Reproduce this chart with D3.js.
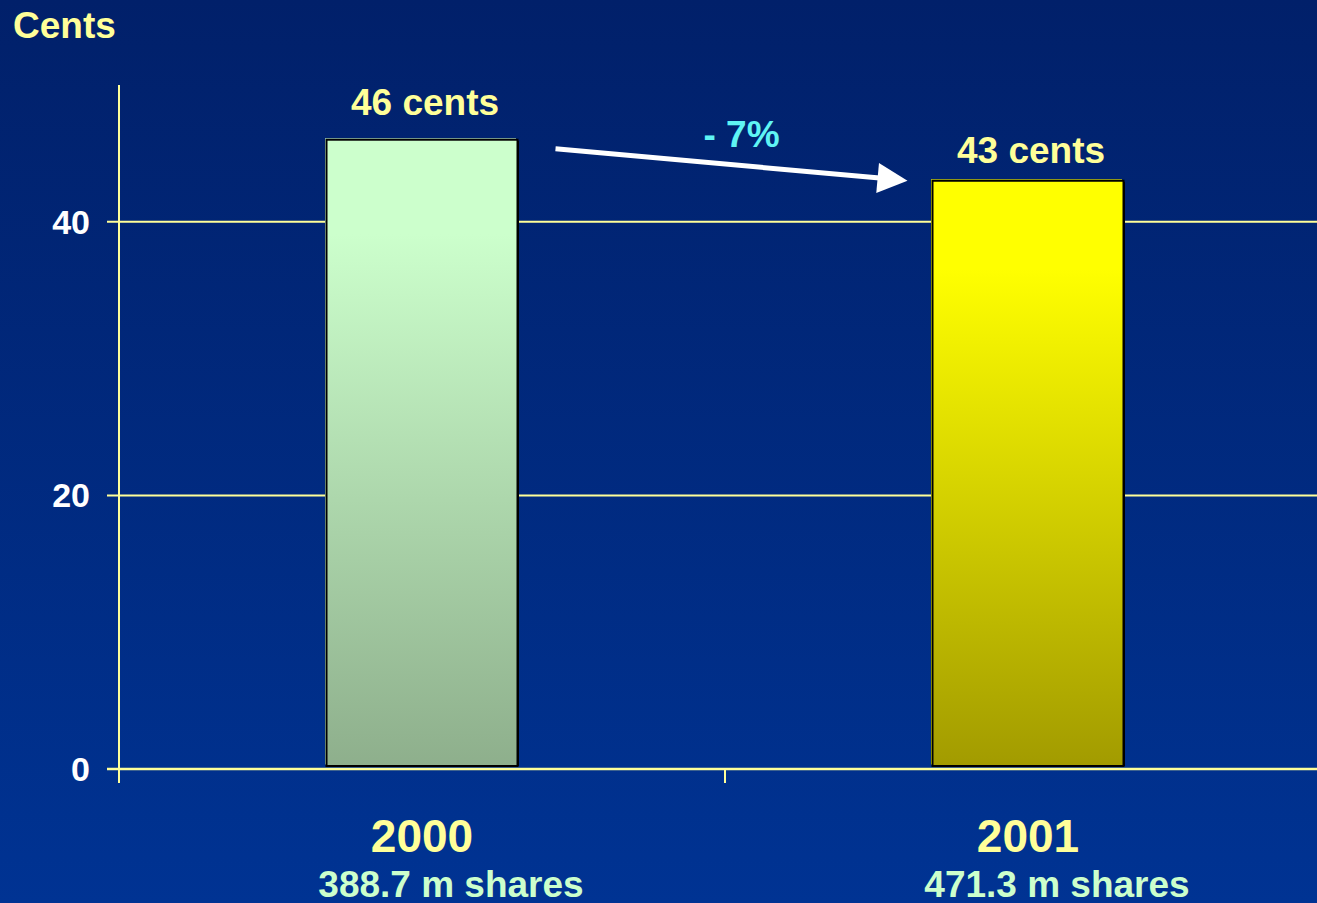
<!DOCTYPE html>
<html>
<head>
<meta charset="utf-8">
<script src="https://cdn.jsdelivr.net/npm/d3@7"></script>
<style>
  html, body { margin: 0; padding: 0; background: #002168; }
  svg { display: block; }
  text { font-family: "Liberation Sans", Arial, sans-serif; font-weight: bold; }
</style>
</head>
<body>
<svg id="chart" width="1317" height="903"></svg>
<script>
// Dividend per share, cents
const years = ["2000", "2001"];
const cents = [46, 43];
const valueLabels = ["46 cents", "43 cents"];
const shareLabels = ["388.7 m shares", "471.3 m shares"];
const yTicks = [0, 20, 40];
const changeLabel = "- 7%";
const barTopColors = ["#CCFFCC", "#FFFF00"];
const barBottomColors = ["#8EAF8C", "#A29B00"];

const W = 1317, H = 903;
const svg = d3.select("#chart");
const defs = svg.append("defs");

// background gradient
const bg = defs.append("linearGradient").attr("id", "bg")
  .attr("x1", 0).attr("y1", 0).attr("x2", 0).attr("y2", 1);
bg.append("stop").attr("offset", 0).attr("stop-color", "#01206A");
bg.append("stop").attr("offset", 1).attr("stop-color", "#003393");
svg.append("rect").attr("width", W).attr("height", H).attr("fill", "url(#bg)");

// bar gradients
years.forEach((y, i) => {
  const g = defs.append("linearGradient").attr("id", "bar" + i)
    .attr("x1", 0).attr("y1", 0).attr("x2", 0).attr("y2", 1);
  g.append("stop").attr("offset", 0).attr("stop-color", barTopColors[i]);
  g.append("stop").attr("offset", 0.15).attr("stop-color", barTopColors[i]);
  g.append("stop").attr("offset", 1).attr("stop-color", barBottomColors[i]);
});

const plotLeft = 119, plotRight = 1331;
const x = d3.scaleBand().domain(years).range([plotLeft, plotRight]).paddingInner(0.685).paddingOuter(0.3425);
const y = d3.scaleLinear().domain([0, 50]).range([769, 85]);

const gridColor = "#FFFF99";

// horizontal grid lines with outward ticks
svg.selectAll(".grid").data(yTicks).enter().append("line")
  .attr("x1", plotLeft - 12).attr("x2", W)
  .attr("y1", d => y(d)).attr("y2", d => y(d))
  .attr("stroke", gridColor).attr("stroke-width", 2);

// tick labels
svg.selectAll(".ytl").data(yTicks).enter().append("text")
  .attr("x", 90).attr("y", d => y(d) + 12)
  .attr("text-anchor", "end").attr("font-size", 34).attr("fill", "#FFFFFF")
  .text(d => d);

// bars
const bw = 191;
years.forEach((yr, i) => {
  const cx = x(yr) + x.bandwidth() / 2;
  const x0 = cx - bw / 2;
  const top = y(cents[i]);
  const bottom = y(0) - 3;
  // light edge
  svg.append("rect").attr("x", x0 - 1.5).attr("y", top - 1.5)
    .attr("width", bw).attr("height", bottom - top)
    .attr("fill", barTopColors[i]);
  // shadow
  svg.append("rect").attr("x", x0 + 1.5).attr("y", top + 1)
    .attr("width", bw).attr("height", bottom - top - 1)
    .attr("fill", "#000");
  svg.append("rect").attr("x", x0).attr("y", top)
    .attr("width", bw).attr("height", bottom - top)
    .attr("fill", `url(#bar${i})`).attr("stroke", "#000").attr("stroke-width", 2);
});

// vertical axis line and category separator tick
svg.append("line").attr("x1", plotLeft).attr("x2", plotLeft)
  .attr("y1", y(50)).attr("y2", y(0) + 14)
  .attr("stroke", gridColor).attr("stroke-width", 2);
const sep = (x(years[0]) + x.bandwidth() + x(years[1])) / 2;
svg.append("line").attr("x1", sep).attr("x2", sep)
  .attr("y1", y(0)).attr("y2", y(0) + 14)
  .attr("stroke", gridColor).attr("stroke-width", 2);
// zero line drawn over the bar bases
svg.append("line").attr("x1", plotLeft - 12).attr("x2", W)
  .attr("y1", y(0)).attr("y2", y(0))
  .attr("stroke", gridColor).attr("stroke-width", 2.5);

// value and category labels
years.forEach((yr, i) => {
  const cx = x(yr) + x.bandwidth() / 2;
  svg.append("text").attr("x", cx + 3).attr("y", y(cents[i]) - (i === 0 ? 25 : 18))
    .attr("text-anchor", "middle").attr("font-size", 37).attr("fill", "#FFFF99")
    .text(valueLabels[i]);
  svg.append("text").attr("x", cx).attr("y", 852)
    .attr("text-anchor", "middle").attr("font-size", 46).attr("fill", "#FFFF99")
    .text(yr);
  svg.append("text").attr("x", cx + 29).attr("y", 897)
    .attr("text-anchor", "middle").attr("font-size", 37).attr("fill", "#CCFFCC")
    .text(shareLabels[i]);
});

// axis title
svg.append("text").attr("x", 13).attr("y", 38)
  .attr("font-size", 37).attr("fill", "#FFFF99").text("Cents");

// change arrow between the bars
const b0right = x(years[0]) + x.bandwidth() / 2 + bw / 2;
const b1left = x(years[1]) + x.bandwidth() / 2 - bw / 2;
const ax1 = b0right + 38, ay1 = y(cents[0]) + 9;
const ax2 = b1left - 25, ay2 = y(cents[1]);
const ang = Math.atan2(ay2 - ay1, ax2 - ax1);
const headLen = 30, headHalf = 15;
const bx = ax2 - headLen * Math.cos(ang), by = ay2 - headLen * Math.sin(ang);
svg.append("line").attr("x1", ax1).attr("y1", ay1).attr("x2", bx + 2).attr("y2", by)
  .attr("stroke", "#FFFFFF").attr("stroke-width", 5);
svg.append("path")
  .attr("d", `M${ax2},${ay2} L${bx - headHalf * Math.sin(ang)},${by + headHalf * Math.cos(ang)} L${bx + headHalf * Math.sin(ang)},${by - headHalf * Math.cos(ang)} Z`)
  .attr("fill", "#FFFFFF");
svg.append("text").attr("x", (ax1 + ax2) / 2 + 10).attr("y", 147)
  .attr("text-anchor", "middle").attr("font-size", 37).attr("fill", "#5FF4F4")
  .text(changeLabel);
</script>
</body>
</html>
